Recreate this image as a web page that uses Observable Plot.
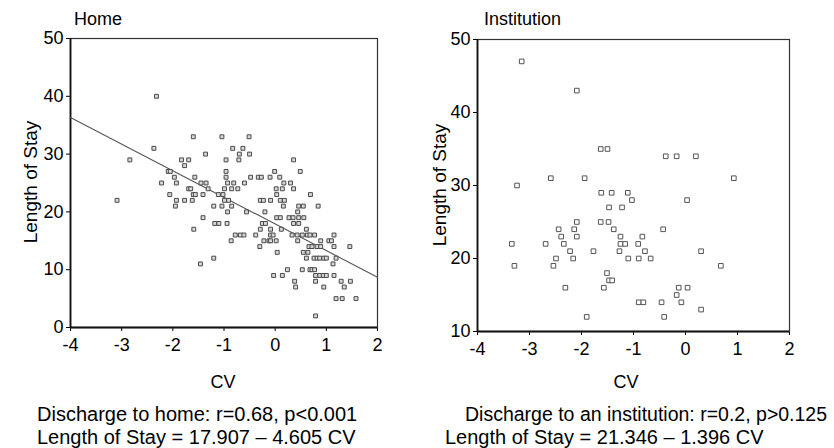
<!DOCTYPE html>
<html>
<head>
<meta charset="utf-8">
<script src="https://cdn.jsdelivr.net/npm/d3@7"></script>
<script src="https://cdn.jsdelivr.net/npm/@observablehq/plot@0.6"></script>
<style>
  html, body { margin: 0; padding: 0; background: #fff; }
  #wrap { position: relative; width: 834px; height: 448px; overflow: hidden; font-family: "Liberation Sans", Arial, sans-serif; }
  #wrap > svg, #wrap > div { position: absolute; }
  #left { left: 0; top: 0; }
  #right { left: 417px; top: 0; }
  #labels { left: 0; top: 0; pointer-events: none; }
</style>
</head>
<body>
<div id="wrap">
  <div id="left"></div>
  <div id="right"></div>
  <svg id="labels" width="834" height="448" font-family="Liberation Sans, Arial, sans-serif" fill="#000">
    <text x="74" y="25" font-size="18">Home</text>
    <text x="484" y="25" font-size="18">Institution</text>
    <text transform="translate(37,182) rotate(-90)" text-anchor="middle" font-size="19">Length of Stay</text>
    <text transform="translate(446,185) rotate(-90)" text-anchor="middle" font-size="19">Length of Stay</text>
    <text x="223" y="388" text-anchor="middle" font-size="18">CV</text>
    <text x="626" y="388" text-anchor="middle" font-size="18">CV</text>
    <text x="37" y="421" font-size="20">Discharge to home: r=0.68, p&lt;0.001</text>
    <text x="37" y="444" font-size="20">Length of Stay = 17.907 – 4.605 CV</text>
    <text x="465" y="421" font-size="19.5">Discharge to an institution: r=0.2, p&gt;0.125</text>
    <text x="445" y="444" font-size="20">Length of Stay = 21.346 – 1.396 CV</text>
  </svg>
</div>
<script>
// ---- Data ----
const xTicks = [-4, -3, -2, -1, 0, 1, 2];
const homeYTicks = [0, 10, 20, 30, 40, 50];
const instYTicks = [10, 20, 30, 40, 50];

// Discharge to home: CV and Length of Stay
const homeCV = [
  -2.32,
  -1.60, -1.04, -0.51,
  -2.37, -0.83, -0.63,
  -1.36, -0.70, -0.50,
  -2.84, -1.83, -1.69, -0.96, -0.71, 0.36,
  -1.77,
  -2.09, -2.05, -0.96, -0.01, 0.49,
  -1.97, -1.57, -0.96, -0.48, -0.33, -0.27, -0.10, 0.09,
  -2.22, -1.93, -1.45, -1.35, -0.93, -0.81, -0.60, 0.17, 0.30,
  -1.69, -1.65, -1.31, -0.99, -0.85, -0.73, 0.02, 0.14, 0.36,
  -2.06, -1.60, -1.56, -1.41, -1.11, -1.02, 0.03, 0.69,
  -3.09, -1.93, -1.77, -1.62, -0.99, -0.91, -0.29, -0.23, -0.09, 0.10, 0.18,
  -1.95, -1.20, -1.04, -0.85, 0.16, 0.46, 0.55, 0.84,
  -0.93, -0.56, -0.20, 0.44,
  -1.41, 0.03, 0.10, 0.27, 0.35, 0.46, 0.56,
  -1.18, -1.10, -0.94, -0.25, -0.19, 0.36, 0.46,
  -1.59, -0.29, -0.09, 0.12, 0.61,
  -0.78, -0.68, -0.61, -0.38, -0.09, -0.04, 0.33, 0.43, 0.53, 0.63, 0.68, 0.77, 1.15,
  -0.86, -0.22, -0.12, -0.09, 0.02, 0.44, 0.89, 1.05, 1.10,
  -0.30, 0.66, 0.72, 0.82, 0.89, 1.15, 1.46,
  0.04, 0.55, 0.64,
  -1.20, 0.61, 0.76, 0.82, 0.87, 0.95, 1.00, 1.19,
  -1.46, 1.13,
  0.24, 0.53, 0.68, 0.72, 0.77,
  -0.03, 0.14, 0.79, 0.87, 0.94, 1.00, 1.15,
  0.38, 0.79, 1.29, 1.47,
  0.40, 0.95, 1.35,
  1.19, 1.31, 1.58,
  0.79
];
const homeLOS = [
  40,
  33, 33, 33,
  31, 31, 31,
  30, 30, 30,
  29, 29, 29, 29, 29, 29,
  28,
  27, 27, 27, 27, 27,
  26, 26, 26, 26, 26, 26, 26, 26,
  25, 25, 25, 25, 25, 25, 25, 25, 25,
  24, 24, 24, 24, 24, 24, 24, 24, 24,
  23, 23, 23, 23, 23, 23, 23, 23,
  22, 22, 22, 22, 22, 22, 22, 22, 22, 22, 22,
  21, 21, 21, 21, 21, 21, 21, 21,
  20, 20, 20, 20,
  19, 19, 19, 19, 19, 19, 19,
  18, 18, 18, 18, 18, 18, 18,
  17, 17, 17, 17, 17,
  16, 16, 16, 16, 16, 16, 16, 16, 16, 16, 16, 16, 16,
  15, 15, 15, 15, 15, 15, 15, 15, 15,
  14, 14, 14, 14, 14, 14, 14,
  13, 13, 13,
  12, 12, 12, 12, 12, 12, 12, 12,
  11, 11,
  10, 10, 10, 10, 10,
  9, 9, 9, 9, 9, 9, 9,
  8, 8, 8, 8,
  7, 7, 7,
  5, 5, 5,
  2
];
// Regression line endpoints for home (Length of Stay = 17.907 - 4.605 CV)
const homeFitCV = [-4, 2];
const homeFitLOS = [36.33, 8.70];

// Discharge to an institution
const instCV = [
  -3.15, -2.09, -1.63, -1.50, -0.38, -0.17, 0.20, -2.59, -1.94, 0.93,
  -3.24, -1.62, -1.42, -1.11, -1.03, 0.03, -1.47, -1.22, -2.09, -1.63,
  -1.48, -2.44, -2.14, -1.38, -0.43, -2.39, -2.09, -1.25, -0.83, -3.34,
  -2.69, -2.34, -1.25, -1.16, -0.91, -2.22, -1.77, -1.27, -0.78, 0.30,
  -2.49, -2.16, -1.10, -0.90, -0.67, -3.29, -2.54, 0.68, -1.51, -1.47,
  -1.41, -2.31, -1.57, -0.13, 0.04, -0.17, -0.90, -0.81, -0.46, -0.08,
  0.30, -1.90, -0.41
];
const instLOS = [
  47, 43, 35, 35, 34, 34, 34, 31, 31, 31,
  30, 29, 29, 29, 28, 28, 27, 27, 25, 25,
  25, 24, 24, 24, 24, 23, 23, 23, 23, 22,
  22, 22, 22, 22, 22, 21, 21, 21, 21, 21,
  20, 20, 20, 20, 20, 19, 19, 19, 18, 17,
  17, 16, 16, 16, 16, 15, 14, 14, 14, 14,
  13, 12, 12
];

// ---- Build tables ----
const home = homeCV.map((cv, i) => ({cv, los: homeLOS[i]}));
const homeFit = homeFitCV.map((cv, i) => ({cv, los: homeFitLOS[i]}));
const inst = instCV.map((cv, i) => ({cv, los: instLOS[i]}));

const font = "Liberation Sans, Arial, sans-serif";
const fmt = d => String(d);

const left = Plot.plot({
  width: 417,
  height: 370,
  marginLeft: 70,
  marginRight: 40,
  marginTop: 38,
  marginBottom: 43,
  style: {fontFamily: font, fontSize: "18px", color: "#000", background: "transparent"},
  x: {domain: [-4, 2], ticks: xTicks, tickFormat: fmt, tickSize: 4, tickPadding: 7, label: null},
  y: {domain: [0, 50], ticks: homeYTicks, tickFormat: fmt, tickSize: 4, tickPadding: 3, label: null},
  marks: [
    Plot.frame({stroke: "#333", strokeWidth: 1.2}),
    Plot.ruleX([-4], {stroke: "#111", strokeWidth: 1.8}),
    Plot.ruleY([0], {stroke: "#111", strokeWidth: 1.8}),
    Plot.line(homeFit, {x: "cv", y: "los", stroke: "#555", strokeWidth: 1.1}),
    Plot.dot(home, {x: "cv", y: "los", symbol: "square", r: 2.2, stroke: "#4a4a4a", strokeWidth: 1, fill: "#d8d8d8"})
  ]
});
document.getElementById("left").appendChild(left);

const right = Plot.plot({
  width: 417,
  height: 370,
  marginLeft: 60,
  marginRight: 45,
  marginTop: 39,
  marginBottom: 39,
  style: {fontFamily: font, fontSize: "18px", color: "#000", background: "transparent"},
  x: {domain: [-4, 2], ticks: xTicks, tickFormat: fmt, tickSize: 4, tickPadding: 7, label: null},
  y: {domain: [10, 50], ticks: instYTicks, tickFormat: fmt, tickSize: 4, tickPadding: 3, label: null},
  marks: [
    Plot.frame({stroke: "#333", strokeWidth: 1.2}),
    Plot.ruleX([-4], {stroke: "#111", strokeWidth: 1.8}),
    Plot.ruleY([10], {stroke: "#111", strokeWidth: 1.8}),
    Plot.dot(inst, {x: "cv", y: "los", symbol: "square", r: 2.6, stroke: "#555", strokeWidth: 1, fill: "#fff"})
  ]
});
document.getElementById("right").appendChild(right);
</script>
</body>
</html>
